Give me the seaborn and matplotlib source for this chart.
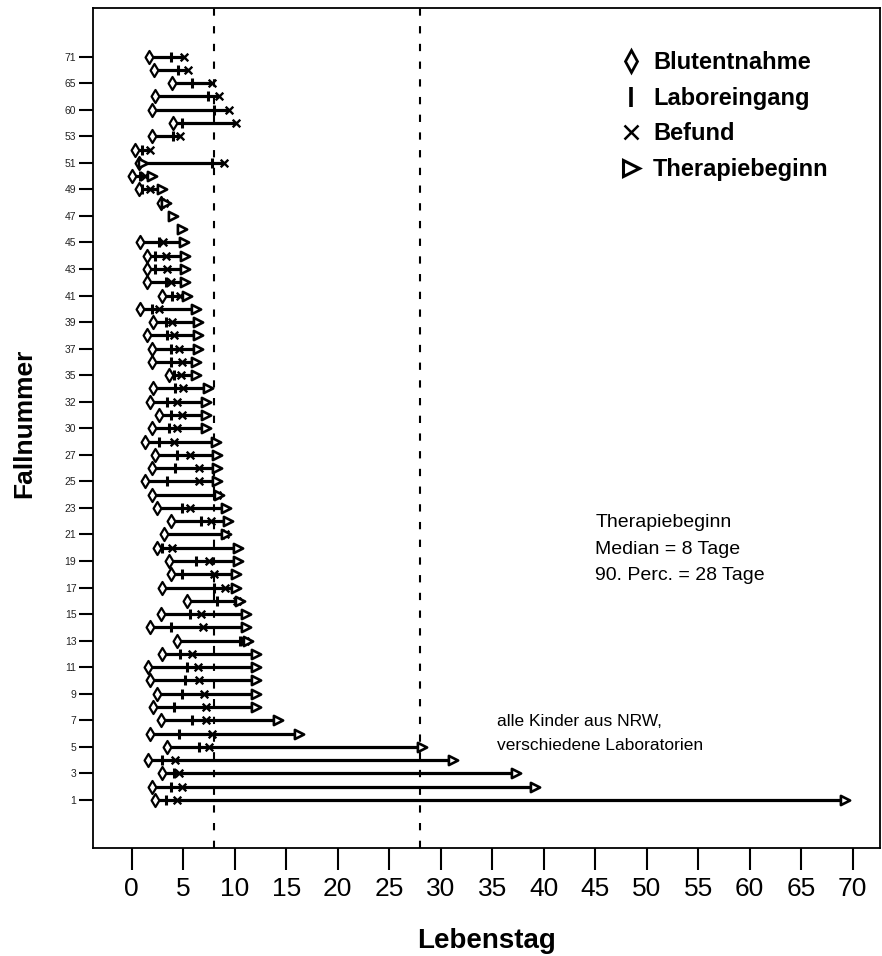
import numpy as np
import pandas as pd
import matplotlib
matplotlib.use("Agg")
import matplotlib.pyplot as plt
import seaborn as sns
from matplotlib.lines import Line2D

# ---- data (Lebenstag of each event, per case, bottom to top) ----
cases = [1, 2, 3, 4, 5, 6, 7, 8, 9, 10, 11, 12, 13, 14, 15, 16, 17, 18, 19, 20,
         21, 22, 23, 24, 25, 26, 27, 28, 30, 31, 32, 33, 35, 36, 37, 38, 39, 40,
         41, 42, 43, 44, 45, 46, 47, 48, 49, 50, 51, 52, 53, 57, 60, 62, 65, 68, 71]
blutentnahme = [2.3, 2.0, 2.9, 1.6, 3.4, 1.8, 2.8, 2.1, 2.5, 1.8, 1.6, 2.9, 4.4, 1.8,
                2.8, 5.4, 2.9, 3.8, 3.6, 2.5, 3.1, 3.8, 2.5, 2.0, 1.3, 2.0, 2.3, 1.3,
                2.0, 2.6, 1.8, 2.1, 3.6, 2.0, 2.0, 1.5, 2.1, 0.8, 2.9, 1.5, 1.5, 1.5,
                0.8, np.nan, np.nan, 2.8, 0.7, 0.0, 0.7, 0.3, 2.0, 4.0, 2.0, 2.3, 3.9,
                2.2, 1.7]
laboreingang = [3.3, 3.8, 4.1, 2.9, 6.5, 4.6, 5.9, 4.1, 4.9, 5.2, 5.4, 4.7, 10.5, 3.8,
                5.7, 8.3, 8.0, 4.9, 6.2, 2.9, 8.9, 6.7, 4.9, 8.0, 3.4, 4.2, 4.4, 2.6,
                3.6, 3.8, 3.4, 4.2, 4.1, 3.8, 3.8, 3.4, 3.3, 2.0, 3.9, 3.3, 2.3, 2.3,
                2.6, np.nan, np.nan, 3.0, 1.0, 0.8, 7.8, 1.0, 4.0, 4.9, 8.0, 7.4, 5.9,
                4.5, 3.8]
befund = [4.4, 4.9, 4.6, 4.2, 7.5, 7.8, 7.2, 7.2, 7.0, 6.5, 6.4, 5.9, 11.0, 6.9,
          6.7, 10.2, 9.1, 8.0, 7.5, 3.9, 9.1, 7.7, 5.7, 8.3, 6.5, 6.5, 5.7, 4.1,
          4.4, 4.9, 4.4, 5.0, 4.8, 4.9, 4.6, 4.1, 3.9, 2.6, 4.7, 3.8, 3.4, 3.3,
          3.0, np.nan, np.nan, 3.1, 1.8, 1.3, 9.0, 1.8, 4.7, 10.1, 9.4, 8.5, 7.8,
          5.5, 5.1]
therapiebeginn = [69.3, 39.2, 37.3, 31.2, 28.2, 16.2, 14.2, 12.1, 12.1, 12.1, 12.1,
                  12.1, 11.3, 11.1, 11.1, 10.5, 10.1, 10.1, 10.3, 10.3, 9.2, 9.3,
                  9.2, 8.5, 8.3, 8.3, 8.3, 8.2, 7.2, 7.2, 7.2, 7.4, 6.2, 6.2, 6.4,
                  6.4, 6.4, 6.2, 5.4, 5.2, 5.2, 5.2, 5.1, 4.9, 4.0, 3.3, 2.9, 2.0,
                  1.1, np.nan, np.nan, np.nan, np.nan, np.nan, np.nan, np.nan, np.nan]
event_names = ["Blutentnahme", "Laboreingang", "Befund", "Therapiebeginn"]
x_ticks = list(range(0, 75, 5))
median_tage = 8
perc90_tage = 28

sns.set_theme(style="ticks")
plt.rcParams["font.family"] = ["Liberation Sans", "DejaVu Sans"]
plt.rcParams["text.color"] = "black"
plt.rcParams["axes.labelcolor"] = "black"
plt.rcParams["xtick.color"] = "black"
plt.rcParams["ytick.color"] = "black"

df = pd.DataFrame({"Fall": cases,
                   "Blutentnahme": blutentnahme,
                   "Laboreingang": laboreingang,
                   "Befund": befund,
                   "Therapiebeginn": therapiebeginn})
df["row"] = np.arange(len(df))
long = df.melt(id_vars=["Fall", "row"], value_vars=event_names,
               var_name="Ereignis", value_name="Tag").dropna()

fig = plt.figure(figsize=(8.82, 9.56), dpi=100)
ax = fig.add_axes([93 / 882, 1 - 848 / 956, (880 - 93) / 882, (848 - 7.5) / 956])

span = long.groupby("row")["Tag"].agg(["min", "max"])
ax.hlines(span.index, span["min"], span["max"], color="black", lw=2.3, zorder=2)

styles = {
    "Blutentnahme": dict(marker="d", s=44, color="white", edgecolor="black", linewidth=1.6),
    "Laboreingang": dict(marker="|", s=50, color="black", linewidth=2.2),
    "Befund": dict(marker="x", s=30, color="black", linewidth=1.7),
    "Therapiebeginn": dict(marker=">", s=44, color="white", edgecolor="black", linewidth=1.9),
}
for ev in event_names:
    sub = long[long["Ereignis"] == ev]
    sns.scatterplot(data=sub, x="Tag", y="row", ax=ax, zorder=3, legend=False, **styles[ev])

for v in (median_tage, perc90_tage):
    ax.axvline(v, color="black", lw=1.5, ls=(0, (3.5, 5)), zorder=1)

ax.set_xlim(-3.76, 72.65)
ax.set_ylim(-3.62, 59.7)
ax.set_xticks(x_ticks)
ax.set_xticklabels([str(t) for t in x_ticks], fontsize=19)
ax.set_yticks(df["row"].values[::2])
ax.set_yticklabels([str(c) for c in cases[::2]], fontsize=7.5, color="#222222")
ax.tick_params(axis="x", length=16, width=1.5, pad=5)
ax.tick_params(axis="y", length=10, width=1.5, pad=2)
for sp in ax.spines.values():
    sp.set_visible(True)
    sp.set_color("black")
    sp.set_linewidth(1.3)

ax.set_xlabel("Lebenstag", fontsize=20, fontweight="bold", labelpad=19)
ax.set_ylabel("Fallnummer", fontsize=19, fontweight="bold")
ax.yaxis.set_label_coords(-0.072, 0.505)

ax.text(45.0, 18.9, "Therapiebeginn\nMedian = %d Tage\n90. Perc. = %d Tage" % (median_tage, perc90_tage),
        fontsize=14, ha="left", va="center", linespacing=1.72)
ax.text(35.5, 5.0, "alle Kinder aus NRW,\nverschiedene Laboratorien",
        fontsize=12.5, ha="left", va="center", linespacing=1.75)

handles = [
    Line2D([], [], ls="none", marker="d", ms=11, mfc="white", mec="black", mew=2),
    Line2D([], [], ls="none", marker="|", ms=14, mec="black", mew=2.6),
    Line2D([], [], ls="none", marker="x", ms=10, mec="black", mew=1.8),
    Line2D([], [], ls="none", marker=">", ms=11, mfc="white", mec="black", mew=2.2),
]
leg = fig.legend(handles, event_names, loc="upper left", bbox_to_anchor=(610 / 882, 1 - 42 / 956),
                 frameon=False, prop=dict(size=17, weight="bold"), labelspacing=0.53,
                 handlelength=1.0, handletextpad=0.42, borderaxespad=0)

fig.savefig("out.png", dpi=100)
